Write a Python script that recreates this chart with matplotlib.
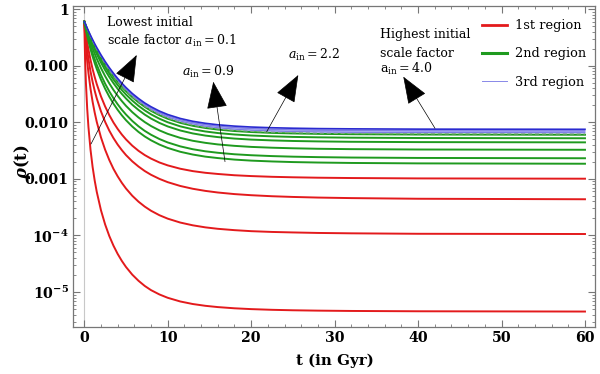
import matplotlib
matplotlib.use("Agg")
import matplotlib.pyplot as plt
from matplotlib.lines import Line2D
import numpy as np

plt.rcParams['font.family'] = ['DejaVu Serif']
plt.rcParams['mathtext.fontset'] = 'dejavuserif'

# time samples (Gyr)
t = [0, 0.1, 0.2, 0.35, 0.5, 0.75, 1, 1.25, 1.5, 2, 2.5, 3, 3.5, 4, 4.5, 5, 5.75, 6.5, 7.25, 8,
     9, 10, 11.5, 13, 14.5, 16, 18, 20, 22.5, 25, 28, 32, 40, 60]

# 1st region (red)
red1 = [0.6, 0.4605, 0.361, 0.260, 0.194, 0.1262, 0.0871, 0.0630, 0.0471, 0.0287, 0.0190, 0.0134, 9.89e-3, 7.63e-3, 6.07e-3, 4.98e-3, 3.86e-3, 3.13e-3, 2.63e-3, 2.28e-3,
        1.95e-3, 1.73e-3, 1.51e-3, 1.37e-3, 1.28e-3, 1.22e-3, 1.158e-3, 1.12e-3, 1.087e-3, 1.066e-3, 1.048e-3, 1.034e-3, 1.018e-3, 1.006e-3]
red2 = [0.6, 0.4079, 0.2918, 0.1898, 0.1315, 0.0788, 0.0516, 0.0360, 0.0263, 0.0156, 0.01016, 7.11e-3, 5.25e-3, 4.04e-3, 3.22e-3, 2.63e-3, 2.04e-3, 1.65e-3, 1.374e-3, 1.18e-3,
        1.0e-3, 8.74e-4, 7.49e-4, 6.68e-4, 6.13e-4, 5.74e-4, 5.38e-4, 5.14e-4, 4.93e-4, 4.79e-4, 4.67e-4, 4.57e-4, 4.45e-4, 4.36e-4]
red3 = [0.6, 0.3428, 0.215, 0.1205, 0.0746, 0.0389, 0.0230, 0.01482, 0.0101, 5.41e-3, 3.27e-3, 2.15e-3, 1.50e-3, 1.11e-3, 8.51e-4, 6.75e-4, 5.03e-4, 3.95e-4, 3.23e-4, 2.73e-4,
        2.28e-4, 1.98e-4, 1.69e-4, 1.51e-4, 1.39e-4, 1.31e-4, 1.24e-4, 1.19e-4, 1.153e-4, 1.13e-4, 1.107e-4, 1.09e-4, 1.07e-4, 1.06e-4]
red4 = [0.6, 0.1312, 0.0491, 0.01753, 8.26e-3, 3.258e-3, 1.62e-3, 9.32e-4, 5.86e-4, 2.79e-4, 1.564e-4, 9.76e-5, 6.59e-5, 4.72e-5, 3.55e-5, 2.77e-5, 2.03e-5, 1.58e-5, 1.28e-5, 1.08e-5,
        9.07e-6, 7.91e-6, 6.81e-6, 6.14e-6, 5.71e-6, 5.42e-6, 5.16e-6, 4.99e-6, 4.85e-6, 4.76e-6, 4.69e-6, 4.63e-6, 4.57e-6, 4.52e-6]

# 2nd region (green)
green1 = [0.6, 0.5041, 0.426, 0.3372, 0.2715, 0.1953, 0.1454, 0.1112, 0.0871, 0.0566, 0.0391, 0.0283, 0.0213, 0.0166, 0.01327, 0.01088, 8.41e-3, 6.75e-3, 5.61e-3, 4.80e-3,
          4.04e-3, 3.52e-3, 3.01e-3, 2.69e-3, 2.47e-3, 2.33e-3, 2.19e-3, 2.10e-3, 2.03e-3, 1.98e-3, 1.943e-3, 1.91e-3, 1.877e-3, 1.85e-3]
green2 = [0.6, 0.5158, 0.4447, 0.3608, 0.2967, 0.2198, 0.1672, 0.1303, 0.1035, 0.0686, 0.0480, 0.0351, 0.0266, 0.0208, 0.01666, 0.0137, 0.01057, 8.48e-3, 7.04e-3, 6.02e-3,
          5.06e-3, 4.40e-3, 3.75e-3, 3.34e-3, 3.07e-3, 2.89e-3, 2.72e-3, 2.615e-3, 2.525e-3, 2.466e-3, 2.42e-3, 2.38e-3, 2.342e-3, 2.312e-3]
green3 = [0.6, 0.5316, 0.4703, 0.3950, 0.3346, 0.2583, 0.2033, 0.1629, 0.1324, 0.0909, 0.0653, 0.0486, 0.0372, 0.0294, 0.0237, 0.0195, 0.01511, 0.01214, 0.01007, 8.58e-3,
          7.19e-3, 6.24e-3, 5.30e-3, 4.71e-3, 4.33e-3, 4.06e-3, 3.83e-3, 3.67e-3, 3.55e-3, 3.47e-3, 3.40e-3, 3.35e-3, 3.30e-3, 3.264e-3]
green4 = [0.6, 0.5434, 0.4898, 0.4217, 0.3654, 0.2915, 0.2358, 0.1933, 0.1603, 0.1136, 0.0834, 0.0631, 0.0491, 0.0390, 0.0317, 0.0263, 0.0204, 0.0165, 0.01366, 0.01164,
          9.74e-3, 8.44e-3, 7.16e-3, 6.35e-3, 5.82e-3, 5.47e-3, 5.15e-3, 4.94e-3, 4.78e-3, 4.67e-3, 4.59e-3, 4.52e-3, 4.46e-3, 4.415e-3]
green5 = [0.6, 0.5494, 0.4996, 0.4357, 0.3819, 0.3098, 0.2543, 0.2111, 0.1769, 0.1276, 0.0950, 0.0727, 0.0570, 0.0456, 0.0372, 0.0309, 0.0242, 0.0195, 0.0162, 0.01381,
          0.01156, 0.0100, 8.47e-3, 7.51e-3, 6.88e-3, 6.45e-3, 6.08e-3, 5.83e-3, 5.64e-3, 5.51e-3, 5.42e-3, 5.34e-3, 5.27e-3, 5.216e-3]
green6 = [0.6, 0.5541, 0.5076, 0.4470, 0.3952, 0.3248, 0.2697, 0.2263, 0.1913, 0.1401, 0.1055, 0.0814, 0.0643, 0.0518, 0.0424, 0.0354, 0.0278, 0.0225, 0.0187, 0.01593,
          0.01334, 0.01154, 9.77e-3, 8.66e-3, 7.93e-3, 7.43e-3, 7.0e-3, 6.72e-3, 6.49e-3, 6.35e-3, 6.24e-3, 6.15e-3, 6.07e-3, 6.017e-3]
green_dashed = [0.6, 0.5552, 0.5093, 0.4494, 0.3982, 0.3283, 0.2734, 0.2298, 0.1947, 0.1431, 0.1080, 0.0836, 0.0661, 0.0533, 0.0438, 0.0365, 0.0287, 0.0232, 0.0193, 0.01647,
                0.0138, 0.01194, 0.0101, 8.95e-3, 8.19e-3, 7.68e-3, 7.23e-3, 6.94e-3, 6.70e-3, 6.56e-3, 6.45e-3, 6.36e-3, 6.27e-3, 6.217e-3]

# 3rd region (blue)
blue1 = [0.6, 0.5567, 0.5118, 0.4529, 0.4022, 0.3329, 0.2781, 0.2344, 0.1991, 0.1469, 0.1113, 0.0863, 0.0683, 0.0551, 0.0453, 0.0379, 0.0297, 0.0241, 0.0200, 0.0171,
         0.01433, 0.0124, 0.0105, 9.31e-3, 8.53e-3, 8.00e-3, 7.54e-3, 7.24e-3, 7.01e-3, 6.86e-3, 6.74e-3, 6.65e-3, 6.57e-3, 6.52e-3]
blue2 = [0.6, 0.5584, 0.514, 0.4567, 0.4066, 0.3379, 0.2833, 0.2396, 0.204, 0.1512, 0.1150, 0.0893, 0.0709, 0.0573, 0.0472, 0.0395, 0.0310, 0.0252, 0.0210, 0.0180,
         0.01506, 0.01306, 0.01109, 9.86e-3, 9.06e-3, 8.52e-3, 8.05e-3, 7.74e-3, 7.51e-3, 7.36e-3, 7.24e-3, 7.15e-3, 7.07e-3, 7.02e-3]
blue3 = [0.6, 0.5601, 0.5171, 0.4604, 0.4111, 0.3429, 0.2885, 0.2447, 0.2088, 0.1555, 0.1186, 0.0924, 0.0735, 0.0595, 0.0491, 0.0411, 0.0323, 0.0263, 0.0219, 0.0188,
         0.01578, 0.01371, 0.01168, 0.01041, 9.59e-3, 9.03e-3, 8.55e-3, 8.24e-3, 8.0e-3, 7.85e-3, 7.73e-3, 7.65e-3, 7.56e-3, 7.51e-3]

x_ticks = [0, 10, 20, 30, 40, 50, 60]
y_ticks = [1, 0.1, 0.01, 0.001, 1e-4, 1e-5]
y_tick_labels = ["1", "0.100", "0.010", "0.001", r"$\mathbf{10^{-4}}$", r"$\mathbf{10^{-5}}$"]
legend_labels = ["1st region", "2nd region", "3rd region"]

RED = '#e31a1c'
GREEN = '#1f9a1f'
BLUE = '#2a2ad0'

fig = plt.figure(figsize=(6.0, 3.74), dpi=100)
ax = fig.add_axes([73/600, 1-327/374, 522/600, 321/374])
ax.set_yscale('log')
ax.set_xlim(-1.35, 61.2)
ax.set_ylim(2.41e-6, 1.134)

ax.axvline(0, color='#c8c8c8', lw=0.8, zorder=0)

for r in (red1, red2, red3, red4):
    ax.plot(t, r, color=RED, lw=1.4, zorder=2)
for g in (green1, green2, green3, green4, green5, green6):
    ax.plot(t, g, color=GREEN, lw=1.4, zorder=3)
ax.plot(t, green_dashed, color='#7aa87a', lw=1.0, ls=(0, (3, 2)), zorder=3.5)

ax.fill_between(t, blue1, blue3, color='#a8a8f0', lw=0, zorder=4)
for b in (blue1, blue2):
    ax.plot(t, b, color='#6a6ae0', lw=0.5, zorder=4.5)
ax.plot(t, blue3, color=BLUE, lw=1.2, zorder=5)

# ticks
ax.set_xticks(x_ticks)
ax.set_xticks(np.arange(0, 61, 2), minor=True)
ax.set_yticks(y_ticks)
ax.set_yticklabels(y_tick_labels)
ax.tick_params(which='both', direction='in', top=True, right=True, color='#777777')
ax.tick_params(which='major', length=5, width=0.8, labelsize=10.2, pad=3)
ax.tick_params(which='minor', length=2.5, width=0.6)
for lab in ax.get_xticklabels() + ax.get_yticklabels():
    lab.set_fontweight('bold')
for s in ax.spines.values():
    s.set_color('#777777')
    s.set_linewidth(0.9)

ax.set_xlabel('t (in Gyr)', fontsize=10.8, fontweight='bold')
ax.xaxis.set_label_coords(0.502, -0.084)
ax.set_ylabel(r'$\mathbfit{\rho}$(t)', fontsize=11.8, fontweight='bold')
ax.yaxis.set_label_coords(-0.076, 0.514)

# annotations
fs = 9
ax.text(0.0646, 0.9377, 'Lowest initial', transform=ax.transAxes, fontsize=fs, va='baseline')
ax.text(0.0646, 0.8785, r'scale factor $a_{\rm in} = 0.1$', transform=ax.transAxes, fontsize=fs, va='baseline')
ax.text(0.2088, 0.7819, r'$a_{\rm in} = 0.9$', transform=ax.transAxes, fontsize=fs, va='baseline')
ax.text(0.4119, 0.8340, r'$a_{\rm in} = 2.2$', transform=ax.transAxes, fontsize=fs, va='baseline')
ax.text(0.5881, 0.8994, 'Highest initial', transform=ax.transAxes, fontsize=fs, va='baseline')
ax.text(0.5881, 0.8421, 'scale factor', transform=ax.transAxes, fontsize=fs, va='baseline')
ax.text(0.5881, 0.7922, r'a$_{\rm in} = 4.0$', transform=ax.transAxes, fontsize=fs, va='baseline')

arrows = [((0.0345, 0.5701), (0.1220, 0.8474)),
          ((0.2912, 0.5150), (0.2688, 0.7642)),
          ((0.3711, 0.6084), (0.4316, 0.7850)),
          ((0.6935, 0.6190), (0.6328, 0.7798))]
for tail, tip in arrows:
    ax.annotate('', xy=tip, xycoords='axes fraction', xytext=tail, textcoords='axes fraction',
                arrowprops=dict(arrowstyle='-|>,head_length=1.1,head_width=0.42', color='black',
                                lw=0.5, mutation_scale=16, shrinkA=0, shrinkB=0), zorder=6)

handles = [Line2D([], [], color=RED, lw=2.0),
           Line2D([], [], color=GREEN, lw=2.2),
           Line2D([], [], color='#8888e8', lw=0.7)]
ax.legend(handles, legend_labels, loc='upper left', bbox_to_anchor=(0.768, 0.9825), frameon=False,
          fontsize=9.3, handlelength=1.94, handletextpad=0.64, labelspacing=1.17, borderaxespad=0.2)

fig.savefig('out.png', dpi=100)
